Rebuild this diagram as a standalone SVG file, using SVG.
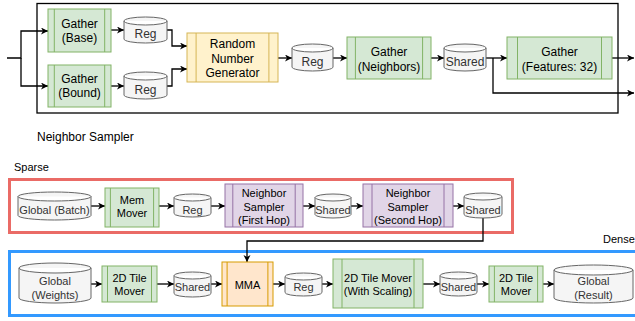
<svg xmlns="http://www.w3.org/2000/svg" width="635" height="321" viewBox="0 0 635 321">
<defs>
<marker id="arr" markerUnits="userSpaceOnUse" markerWidth="8" markerHeight="8" refX="7" refY="3.5" orient="auto">
<path d="M0,0 L7,3.5 L0,7 L2,3.5 z" fill="#000"/>
</marker>
<style>
text{font-family:"Liberation Sans",Arial,Helvetica,sans-serif;text-anchor:middle;fill:#000}
.t12{font-size:12px}
.t11{font-size:11px}
.lbl{text-anchor:start}
.cylt{fill:#333333}
.cyl{fill:#f5f5f5;stroke:#666666;stroke-width:1}
.grn{fill:#d5e8d4;stroke:#82b366;stroke-width:1}
.ylw{fill:#fff2cc;stroke:#d6b656;stroke-width:1}
.pur{fill:#e1d5e7;stroke:#9673a6;stroke-width:1}
.org{fill:#ffe6cc;stroke:#d79b00;stroke-width:1}
.edge path{fill:none;stroke:#000;stroke-width:1.3}
.a{marker-end:url(#arr)}
</style>
</defs>
<rect width="635" height="321" fill="#fff"/>

<!-- containers -->
<g id="neighbor-sampler">
<rect x="37" y="3.5" width="581" height="109.5" fill="none" stroke="#000" stroke-width="1.3"/>
<text class="t12 lbl" x="37" y="141">Neighbor Sampler</text>
</g>
<g id="sparse">
<rect x="9.5" y="179.5" width="503" height="53" fill="none" stroke="#EA6B66" stroke-width="3"/>
<text class="t11 lbl" x="14" y="171">Sparse</text>
</g>
<g id="dense">
<rect x="9.5" y="251.5" width="640" height="64" fill="none" stroke="#3399FF" stroke-width="3"/>
<text class="t11 lbl" x="603" y="243">Dense</text>
</g>

<!-- connectors -->
<g id="connectors" class="edge">
<path class="a" d="M7,58 H21 V31 H48"/>
<path class="a" d="M21,58 V86 H48"/>
<path class="a" d="M111,30 H124"/>
<path class="a" d="M111,86 H124"/>
<path class="a" d="M167,30 H172 V46 H187"/>
<path class="a" d="M167,86 H172 V69 H187"/>
<path class="a" d="M278,58 H292"/>
<path class="a" d="M333,58 H347"/>
<path class="a" d="M431,58 H444"/>
<path class="a" d="M486,58 H507"/>
<path class="a" d="M493,58 V93 H634"/>
<path class="a" d="M612,58 H634"/>

<path class="a" d="M91,206 H105"/>
<path class="a" d="M159,206 H174"/>
<path class="a" d="M211,206 H225"/>
<path class="a" d="M303,206 H315"/>
<path class="a" d="M351,206 H363"/>
<path class="a" d="M453,206 H464"/>
<path class="a" d="M483,218 V241 H247 V262"/>

<path class="a" d="M91,284 H102"/>
<path class="a" d="M157,284 H174"/>
<path class="a" d="M211,284 H222"/>
<path class="a" d="M273,284 H285"/>
<path class="a" d="M322,284 H333"/>
<path class="a" d="M423,284 H440"/>
<path class="a" d="M477,284 H489"/>
<path class="a" d="M543,284 H554"/>
</g>

<!-- top nodes -->
<g id="gather-base">
<rect class="grn" x="48" y="9" width="63" height="43"/>
<path class="grn" d="M54.3,9 V52 M104.7,9 V52"/>
<text class="t12" x="79.5" y="28">Gather</text>
<text class="t12" x="79.5" y="42">(Base)</text>
</g>
<g id="gather-bound">
<rect class="grn" x="48" y="65" width="63" height="42"/>
<path class="grn" d="M54.3,65 V107 M104.7,65 V107"/>
<text class="t12" x="79.5" y="83">Gather</text>
<text class="t12" x="79.5" y="97">(Bound)</text>
</g>
<g id="reg-1">
<path class="cyl" d="M124,21 a21.5,4 0 0 1 43,0 v18 a21.5,4 0 0 1 -43,0 z M124,21 a21.5,4 0 0 0 43,0"/>
<text class="t12 cylt" x="145.5" y="38">Reg</text>
</g>
<g id="reg-2">
<path class="cyl" d="M124,76 a21.5,4 0 0 1 43,0 v19 a21.5,4 0 0 1 -43,0 z M124,76 a21.5,4 0 0 0 43,0"/>
<text class="t12 cylt" x="145.5" y="94">Reg</text>
</g>
<g id="rng">
<rect class="ylw" x="187" y="33" width="91" height="49"/>
<path class="ylw" d="M196.1,33 V82 M268.9,33 V82"/>
<text class="t12" x="232.5" y="48">Random</text>
<text class="t12" x="232.5" y="62.5">Number</text>
<text class="t12" x="232.5" y="77">Generator</text>
</g>
<g id="reg-3">
<path class="cyl" d="M292,48 a20.5,4 0 0 1 41,0 v19 a20.5,4 0 0 1 -41,0 z M292,48 a20.5,4 0 0 0 41,0"/>
<text class="t12 cylt" x="312.5" y="66">Reg</text>
</g>
<g id="gather-neighbors">
<rect class="grn" x="347" y="37" width="84" height="42"/>
<path class="grn" d="M355.4,37 V79 M422.6,37 V79"/>
<text class="t12" x="389" y="56">Gather</text>
<text class="t12" x="389" y="71">(Neighbors)</text>
</g>
<g id="shared-1">
<path class="cyl" d="M444,48 a21,4 0 0 1 42,0 v19 a21,4 0 0 1 -42,0 z M444,48 a21,4 0 0 0 42,0"/>
<text class="t12 cylt" x="465" y="66">Shared</text>
</g>
<g id="gather-features">
<rect class="grn" x="507" y="37" width="105" height="42"/>
<path class="grn" d="M517.5,37 V79 M601.5,37 V79"/>
<text class="t12" x="559.5" y="56">Gather</text>
<text class="t12" x="559.5" y="71">(Features: 32)</text>
</g>

<!-- sparse nodes -->
<g id="global-batch">
<path class="cyl" d="M18,196.5 a36.5,4.5 0 0 1 73,0 v19 a36.5,4.5 0 0 1 -73,0 z M18,196.5 a36.5,4.5 0 0 0 73,0"/>
<text class="t11 cylt" x="54.5" y="214">Global (Batch)</text>
</g>
<g id="mem-mover">
<rect class="grn" x="105" y="188" width="54" height="39"/>
<path class="grn" d="M110.4,188 V227 M153.6,188 V227"/>
<text class="t11" x="132" y="204">Mem</text>
<text class="t11" x="132" y="217">Mover</text>
</g>
<g id="reg-s">
<path class="cyl" d="M174,197.5 a18.5,3.5 0 0 1 37,0 v16 a18.5,3.5 0 0 1 -37,0 z M174,197.5 a18.5,3.5 0 0 0 37,0"/>
<text class="t11 cylt" x="192.5" y="214">Reg</text>
</g>
<g id="ns-first">
<rect class="pur" x="225" y="184" width="78" height="43"/>
<path class="pur" d="M232.8,184 V227 M295.2,184 V227"/>
<text class="t11" x="264" y="197">Neighbor</text>
<text class="t11" x="264" y="211">Sampler</text>
<text class="t11" x="264" y="224">(First Hop)</text>
</g>
<g id="shared-s1">
<path class="cyl" d="M315,197.5 a18,3.5 0 0 1 36,0 v17 a18,3.5 0 0 1 -36,0 z M315,197.5 a18,3.5 0 0 0 36,0"/>
<text class="t11 cylt" x="333" y="214">Shared</text>
</g>
<g id="ns-second">
<rect class="pur" x="363" y="184" width="90" height="43"/>
<path class="pur" d="M372,184 V227 M444,184 V227"/>
<text class="t11" x="408" y="197">Neighbor</text>
<text class="t11" x="408" y="211">Sampler</text>
<text class="t11" x="408" y="224">(Second Hop)</text>
</g>
<g id="shared-s2">
<path class="cyl" d="M464,196.5 a19,3.5 0 0 1 38,0 v18 a19,3.5 0 0 1 -38,0 z M464,196.5 a19,3.5 0 0 0 38,0"/>
<text class="t11 cylt" x="483" y="214">Shared</text>
</g>

<!-- dense nodes -->
<g id="global-weights">
<path class="cyl" d="M19,268 a36,5 0 0 1 72,0 v30 a36,5 0 0 1 -72,0 z M19,268 a36,5 0 0 0 72,0"/>
<text class="t11 cylt" x="55" y="285">Global</text>
<text class="t11 cylt" x="55" y="299">(Weights)</text>
</g>
<g id="tile-mover-1">
<rect class="grn" x="102" y="266" width="55" height="36"/>
<path class="grn" d="M107.5,266 V302 M151.5,266 V302"/>
<text class="t11" x="129.5" y="282">2D Tile</text>
<text class="t11" x="129.5" y="295">Mover</text>
</g>
<g id="shared-d1">
<path class="cyl" d="M174,275.5 a18.5,3.5 0 0 1 37,0 v18 a18.5,3.5 0 0 1 -37,0 z M174,275.5 a18.5,3.5 0 0 0 37,0"/>
<text class="t11 cylt" x="192.5" y="291">Shared</text>
</g>
<g id="mma">
<rect class="org" x="222" y="262" width="51" height="44"/>
<path class="org" d="M227.1,262 V306 M267.9,262 V306"/>
<text class="t11" x="247.5" y="289">MMA</text>
</g>
<g id="reg-d">
<path class="cyl" d="M285,276.5 a18.5,3.5 0 0 1 37,0 v16 a18.5,3.5 0 0 1 -37,0 z M285,276.5 a18.5,3.5 0 0 0 37,0"/>
<text class="t11 cylt" x="303.5" y="291">Reg</text>
</g>
<g id="tile-mover-scaling">
<rect class="grn" x="333" y="259" width="90" height="49"/>
<path class="grn" d="M342,259 V308 M414,259 V308"/>
<text class="t11" x="378" y="282">2D Tile Mover</text>
<text class="t11" x="378" y="295">(With Scaling)</text>
</g>
<g id="shared-d2">
<path class="cyl" d="M440,275.5 a18.5,3.5 0 0 1 37,0 v17 a18.5,3.5 0 0 1 -37,0 z M440,275.5 a18.5,3.5 0 0 0 37,0"/>
<text class="t11 cylt" x="458.5" y="291">Shared</text>
</g>
<g id="tile-mover-2">
<rect class="grn" x="489" y="266" width="54" height="36"/>
<path class="grn" d="M494.4,266 V302 M537.6,266 V302"/>
<text class="t11" x="516" y="282">2D Tile</text>
<text class="t11" x="516" y="295">Mover</text>
</g>
<g id="global-result">
<path class="cyl" d="M554,270 a39.5,5 0 0 1 79,0 v28 a39.5,5 0 0 1 -79,0 z M554,270 a39.5,5 0 0 0 79,0"/>
<text class="t11 cylt" x="593.5" y="285">Global</text>
<text class="t11 cylt" x="593.5" y="299">(Result)</text>
</g>
</svg>
